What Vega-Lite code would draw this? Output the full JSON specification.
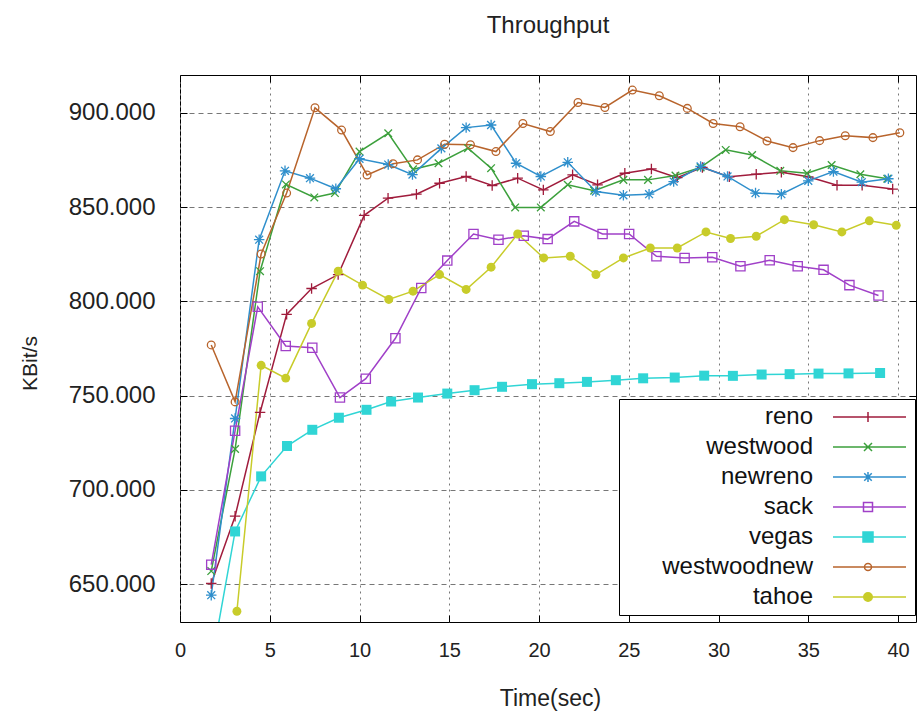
{
  "$schema": "https://vega.github.io/schema/vega-lite/v6.json",
  "width": 736,
  "height": 547,
  "autosize": {"type": "none"},
  "padding": {"left": 180, "top": 75, "right": 8, "bottom": 89},
  "background": "#ffffff",
  "title": {"text": "Throughput", "font": "Liberation Sans", "fontSize": 24, "fontWeight": "normal", "color": "#222222", "anchor": "middle", "frame": "group", "baseline": "middle", "offset": 25},
  "config": {
    "view": {"stroke": "#000000", "strokeWidth": 1},
    "axis": {"labelFont": "Liberation Sans", "titleFont": "Liberation Sans", "labelColor": "#222222", "titleColor": "#222222", "titleFontWeight": "normal", "domain": false, "tickColor": "#000000", "tickWidth": 1}
  },
  "data": {"values": [
    {"s":"reno","t":1.74,"v":650.4},{"s":"reno","t":3.07,"v":686.1},{"s":"reno","t":4.46,"v":741.1},{"s":"reno","t":5.94,"v":793.1},{"s":"reno","t":7.33,"v":806.8},{"s":"reno","t":8.81,"v":814.2},{"s":"reno","t":10.26,"v":845.6},{"s":"reno","t":11.59,"v":854.7},{"s":"reno","t":13.17,"v":856.8},{"s":"reno","t":14.46,"v":862.6},{"s":"reno","t":15.94,"v":866.2},{"s":"reno","t":17.39,"v":861.4},{"s":"reno","t":18.81,"v":865.3},{"s":"reno","t":20.24,"v":859.1},{"s":"reno","t":21.87,"v":867.1},{"s":"reno","t":23.26,"v":861.8},{"s":"reno","t":24.78,"v":867.9},{"s":"reno","t":26.26,"v":870.2},{"s":"reno","t":27.7,"v":865.6},{"s":"reno","t":29.1,"v":871.0},{"s":"reno","t":30.6,"v":866.0},{"s":"reno","t":32.1,"v":867.4},{"s":"reno","t":33.5,"v":868.4},{"s":"reno","t":35.0,"v":866.0},{"s":"reno","t":36.6,"v":861.5},{"s":"reno","t":38.0,"v":861.5},{"s":"reno","t":39.7,"v":859.5},
    {"s":"westwood","t":1.74,"v":657},{"s":"westwood","t":3.07,"v":721.7},{"s":"westwood","t":4.46,"v":816},{"s":"westwood","t":5.9,"v":862},{"s":"westwood","t":7.48,"v":855.1},{"s":"westwood","t":8.63,"v":857.4},{"s":"westwood","t":10.0,"v":879.4},{"s":"westwood","t":11.6,"v":889.1},{"s":"westwood","t":12.98,"v":870},{"s":"westwood","t":14.4,"v":873.2},{"s":"westwood","t":16.04,"v":881.2},{"s":"westwood","t":17.33,"v":870.6},{"s":"westwood","t":18.67,"v":849.8},{"s":"westwood","t":20.1,"v":849.8},{"s":"westwood","t":21.6,"v":861.8},{"s":"westwood","t":23.07,"v":858.7},{"s":"westwood","t":24.7,"v":864.4},{"s":"westwood","t":26.07,"v":864.4},{"s":"westwood","t":27.6,"v":866.7},{"s":"westwood","t":29.0,"v":871},{"s":"westwood","t":30.4,"v":880.3},{"s":"westwood","t":31.87,"v":877.6},{"s":"westwood","t":33.44,"v":869.2},{"s":"westwood","t":34.93,"v":867.9},{"s":"westwood","t":36.3,"v":872.3},{"s":"westwood","t":37.9,"v":867.4},{"s":"westwood","t":39.4,"v":865},
    {"s":"newreno","t":1.74,"v":644.2},{"s":"newreno","t":3.07,"v":737.9},{"s":"newreno","t":4.41,"v":832.7},{"s":"newreno","t":5.85,"v":869.2},{"s":"newreno","t":7.24,"v":865.3},{"s":"newreno","t":8.68,"v":859.7},{"s":"newreno","t":10.0,"v":875.6},{"s":"newreno","t":11.6,"v":872.5},{"s":"newreno","t":12.95,"v":867.2},{"s":"newreno","t":14.56,"v":881.1},{"s":"newreno","t":15.94,"v":892.1},{"s":"newreno","t":17.33,"v":893.5},{"s":"newreno","t":18.72,"v":873.2},{"s":"newreno","t":20.1,"v":866.2},{"s":"newreno","t":21.6,"v":873.7},{"s":"newreno","t":23.17,"v":858.2},{"s":"newreno","t":24.7,"v":856.2},{"s":"newreno","t":26.13,"v":856.8},{"s":"newreno","t":27.5,"v":863.5},{"s":"newreno","t":29.0,"v":871.5},{"s":"newreno","t":30.5,"v":866.2},{"s":"newreno","t":32.06,"v":857.4},{"s":"newreno","t":33.5,"v":856.8},{"s":"newreno","t":35.0,"v":863.9},{"s":"newreno","t":36.4,"v":868.8},{"s":"newreno","t":37.98,"v":863.2},{"s":"newreno","t":39.46,"v":865},
    {"s":"sack","t":1.74,"v":660.4},{"s":"sack","t":3.07,"v":731.4},{"s":"sack","t":4.33,"v":797.1},{"s":"sack","t":5.89,"v":776.3},{"s":"sack","t":7.37,"v":775.4},{"s":"sack","t":8.91,"v":749},{"s":"sack","t":10.35,"v":759},{"s":"sack","t":12.0,"v":780.4},{"s":"sack","t":13.44,"v":807.1},{"s":"sack","t":14.89,"v":821.6},{"s":"sack","t":16.35,"v":835.7},{"s":"sack","t":17.74,"v":832.7},{"s":"sack","t":19.15,"v":834.8},{"s":"sack","t":20.48,"v":833.0},{"s":"sack","t":21.96,"v":842.4},{"s":"sack","t":23.54,"v":835.7},{"s":"sack","t":25.02,"v":835.7},{"s":"sack","t":26.54,"v":823.9},{"s":"sack","t":28.11,"v":823.0},{"s":"sack","t":29.65,"v":823.4},{"s":"sack","t":31.22,"v":818.6},{"s":"sack","t":32.85,"v":821.8},{"s":"sack","t":34.41,"v":818.6},{"s":"sack","t":35.85,"v":816.7},{"s":"sack","t":37.29,"v":808.6},{"s":"sack","t":38.91,"v":803.1},
    {"s":"vegas","t":1.6,"v":600},{"s":"vegas","t":3.07,"v":678},{"s":"vegas","t":4.52,"v":707.2},{"s":"vegas","t":5.96,"v":723.3},{"s":"vegas","t":7.37,"v":731.9},{"s":"vegas","t":8.85,"v":738.3},{"s":"vegas","t":10.39,"v":742.5},{"s":"vegas","t":11.76,"v":746.9},{"s":"vegas","t":13.26,"v":749},{"s":"vegas","t":14.89,"v":751.1},{"s":"vegas","t":16.41,"v":752.9},{"s":"vegas","t":17.94,"v":754.7},{"s":"vegas","t":19.61,"v":756.1},{"s":"vegas","t":21.13,"v":756.6},{"s":"vegas","t":22.67,"v":757.3},{"s":"vegas","t":24.28,"v":758.2},{"s":"vegas","t":25.8,"v":759.2},{"s":"vegas","t":27.56,"v":759.6},{"s":"vegas","t":29.2,"v":760.6},{"s":"vegas","t":30.8,"v":760.5},{"s":"vegas","t":32.4,"v":761.2},{"s":"vegas","t":33.96,"v":761.4},{"s":"vegas","t":35.57,"v":761.7},{"s":"vegas","t":37.24,"v":761.8},{"s":"vegas","t":39.0,"v":762},
    {"s":"westwoodnew","t":1.74,"v":776.9},{"s":"westwoodnew","t":3.07,"v":746.7},{"s":"westwoodnew","t":4.52,"v":825.1},{"s":"westwoodnew","t":5.94,"v":857.4},{"s":"westwoodnew","t":7.52,"v":902.6},{"s":"westwoodnew","t":9.0,"v":890.8},{"s":"westwoodnew","t":10.42,"v":867},{"s":"westwoodnew","t":11.87,"v":873},{"s":"westwoodnew","t":13.23,"v":875},{"s":"westwoodnew","t":14.74,"v":883.3},{"s":"westwoodnew","t":16.18,"v":883},{"s":"westwoodnew","t":17.6,"v":879.4},{"s":"westwoodnew","t":19.1,"v":894.3},{"s":"westwoodnew","t":20.63,"v":890},{"s":"westwoodnew","t":22.17,"v":905.4},{"s":"westwoodnew","t":23.67,"v":902.8},{"s":"westwoodnew","t":25.2,"v":912},{"s":"westwoodnew","t":26.7,"v":909},{"s":"westwoodnew","t":28.26,"v":902.3},{"s":"westwoodnew","t":29.7,"v":894.3},{"s":"westwoodnew","t":31.2,"v":892.6},{"s":"westwoodnew","t":32.7,"v":885},{"s":"westwoodnew","t":34.15,"v":881.5},{"s":"westwoodnew","t":35.63,"v":885.2},{"s":"westwoodnew","t":37.06,"v":887.8},{"s":"westwoodnew","t":38.6,"v":886.8},{"s":"westwoodnew","t":40.1,"v":889.4},
    {"s":"tahoe","t":3.17,"v":635.7},{"s":"tahoe","t":4.52,"v":766.1},{"s":"tahoe","t":5.89,"v":759.3},{"s":"tahoe","t":7.33,"v":788.3},{"s":"tahoe","t":8.81,"v":816},{"s":"tahoe","t":10.17,"v":808.6},{"s":"tahoe","t":11.63,"v":801},{"s":"tahoe","t":12.98,"v":805.4},{"s":"tahoe","t":14.46,"v":814.2},{"s":"tahoe","t":15.94,"v":806.3},{"s":"tahoe","t":17.33,"v":818.1},{"s":"tahoe","t":18.81,"v":835.7},{"s":"tahoe","t":20.26,"v":823},{"s":"tahoe","t":21.74,"v":823.9},{"s":"tahoe","t":23.17,"v":814.2},{"s":"tahoe","t":24.7,"v":823},{"s":"tahoe","t":26.2,"v":828.3},{"s":"tahoe","t":27.7,"v":828.3},{"s":"tahoe","t":29.3,"v":836.8},{"s":"tahoe","t":30.67,"v":833.3},{"s":"tahoe","t":32.1,"v":834.5},{"s":"tahoe","t":33.67,"v":843.3},{"s":"tahoe","t":35.3,"v":840.6},{"s":"tahoe","t":36.87,"v":836.8},{"s":"tahoe","t":38.4,"v":842.7},{"s":"tahoe","t":39.9,"v":840.3}
  ]},
  "layer": [
    {
      "mark": {"type": "line", "strokeWidth": 1.5, "clip": true},
      "encoding": {
        "x": {"field": "t", "type": "quantitative", "scale": {"domain": [0, 41], "nice": false, "zero": false},
              "axis": {"orient": "bottom", "values": [0,5,10,15,20,25,30,35,40], "grid": true, "gridDash": [2,4], "gridColor": "#777777", "tickSize": -7, "labelPadding": 25, "labelFontSize": 20, "labelFlush": false, "title": "Time(sec)", "titleFontSize": 23, "titleX": 370, "titleY": 76, "titleBaseline": "middle"}},
        "y": {"field": "v", "type": "quantitative", "scale": {"domain": [630, 920], "nice": false, "zero": false},
              "axis": {"orient": "left", "values": [650,700,750,800,850,900], "format": ".3f", "grid": true, "gridDash": [5,4], "gridColor": "#777777", "tickSize": -7, "labelPadding": 32, "labelFontSize": 24, "title": "KBit/s", "titleFontSize": 21, "titleX": -150, "titleY": 288, "titleBaseline": "middle", "titleAlign": "center"}},
        "color": {"field": "s", "type": "nominal",
                  "scale": {"domain": ["reno","westwood","newreno","sack","vegas","westwoodnew","tahoe"], "range": ["#a01c3c","#3ca03c","#2f8fcc","#a040c8","#30d5d5","#b8642c","#c8cc2a"]},
                  "legend": {"orient": "none", "legendX": 439, "legendY": 324, "title": null, "fillColor": "#ffffff", "strokeColor": "#000000", "padding": 6, "rowPadding": 6, "labelFont": "Liberation Sans", "labelFontSize": 24, "labelColor": "#111111", "labelLimit": 300, "symbolSize": 100, "symbolStrokeWidth": 1.5,
                    "encode": {
                      "symbols": {"update": {
                        "shape": {"signal": "datum.value==='reno'?'M-7,0L7.6,0M0,-1L0,1':datum.value==='westwood'?'M-7,0L7.6,0M-0.8,-0.8L0.8,0.8M-0.8,0.8L0.8,-0.8':datum.value==='newreno'?'M-7,0L7.6,0M0,-1L0,1M-0.75,-0.75L0.75,0.75M-0.75,0.75L0.75,-0.75':datum.value==='sack'?'M-7,0L7.6,0M-0.9,-0.9L0.9,-0.9L0.9,0.9L-0.9,0.9Z':datum.value==='vegas'?'M-7,0L7.6,0M-1,-1L1,-1L1,1L-1,1Z':datum.value==='westwoodnew'?'M-7,0L7.6,0M0.7,0A0.7,0.7,0,1,1,-0.7,0A0.7,0.7,0,1,1,0.7,0Z':'M-7,0L7.6,0M0.85,0A0.85,0.85,0,1,1,-0.85,0A0.85,0.85,0,1,1,0.85,0Z'"},
                        "fill": {"signal": "datum.value==='vegas'?'#30d5d5':datum.value==='tahoe'?'#c8cc2a':'transparent'"},
                        "size": {"value": 100},
                        "x": {"value": 243},
                        "strokeWidth": {"value": 1.5},
                        "opacity": {"value": 1}
                      }},
                      "labels": {"update": {"x": {"value": 188}, "align": {"value": "right"}}}
                    }}}
      }
    },
    {
      "transform": [{"filter": "datum.s === 'reno'"}],
      "mark": {"type": "point", "shape": "M-1,0L1,0M0,-1L0,1", "filled": false, "color": "#a01c3c", "size": 110, "strokeWidth": 1.3, "opacity": 1, "clip": true},
      "encoding": {
        "x": {"field": "t", "type": "quantitative", "axis": {"orient": "top", "values": [0,5,10,15,20,25,30,35,40], "labels": false, "grid": false, "tickSize": -7, "title": null}},
        "y": {"field": "v", "type": "quantitative", "axis": {"orient": "right", "values": [650,700,750,800,850,900], "labels": false, "grid": false, "tickSize": -7, "title": null}}
      }
    },
    {
      "transform": [{"filter": "datum.s === 'westwood'"}],
      "mark": {"type": "point", "shape": "M-0.8,-0.8L0.8,0.8M-0.8,0.8L0.8,-0.8", "filled": false, "color": "#3ca03c", "size": 90, "strokeWidth": 1.3, "opacity": 1, "clip": true},
      "encoding": {"x": {"field": "t", "type": "quantitative", "axis": null}, "y": {"field": "v", "type": "quantitative", "axis": null}}
    },
    {
      "transform": [{"filter": "datum.s === 'newreno'"}],
      "mark": {"type": "point", "shape": "M-1,0L1,0M0,-1L0,1M-0.75,-0.75L0.75,0.75M-0.75,0.75L0.75,-0.75", "filled": false, "color": "#2f8fcc", "size": 110, "strokeWidth": 1.3, "opacity": 1, "clip": true},
      "encoding": {"x": {"field": "t", "type": "quantitative", "axis": null}, "y": {"field": "v", "type": "quantitative", "axis": null}}
    },
    {
      "transform": [{"filter": "datum.s === 'sack'"}],
      "mark": {"type": "point", "shape": "square", "filled": false, "color": "#a040c8", "size": 85, "strokeWidth": 1.3, "opacity": 1, "clip": true},
      "encoding": {"x": {"field": "t", "type": "quantitative", "axis": null}, "y": {"field": "v", "type": "quantitative", "axis": null}}
    },
    {
      "transform": [{"filter": "datum.s === 'vegas'"}],
      "mark": {"type": "point", "shape": "square", "filled": true, "color": "#30d5d5", "size": 100, "opacity": 1, "clip": true},
      "encoding": {"x": {"field": "t", "type": "quantitative", "axis": null}, "y": {"field": "v", "type": "quantitative", "axis": null}}
    },
    {
      "transform": [{"filter": "datum.s === 'westwoodnew'"}],
      "mark": {"type": "point", "shape": "circle", "filled": false, "color": "#b8642c", "size": 60, "strokeWidth": 1.3, "opacity": 1, "clip": true},
      "encoding": {"x": {"field": "t", "type": "quantitative", "axis": null}, "y": {"field": "v", "type": "quantitative", "axis": null}}
    },
    {
      "transform": [{"filter": "datum.s === 'tahoe'"}],
      "mark": {"type": "point", "shape": "circle", "filled": true, "color": "#c8cc2a", "size": 80, "opacity": 1, "clip": true},
      "encoding": {"x": {"field": "t", "type": "quantitative", "axis": null}, "y": {"field": "v", "type": "quantitative", "axis": null}}
    }
  ],
  "resolve": {"axis": {"x": "independent", "y": "independent"}}
}
